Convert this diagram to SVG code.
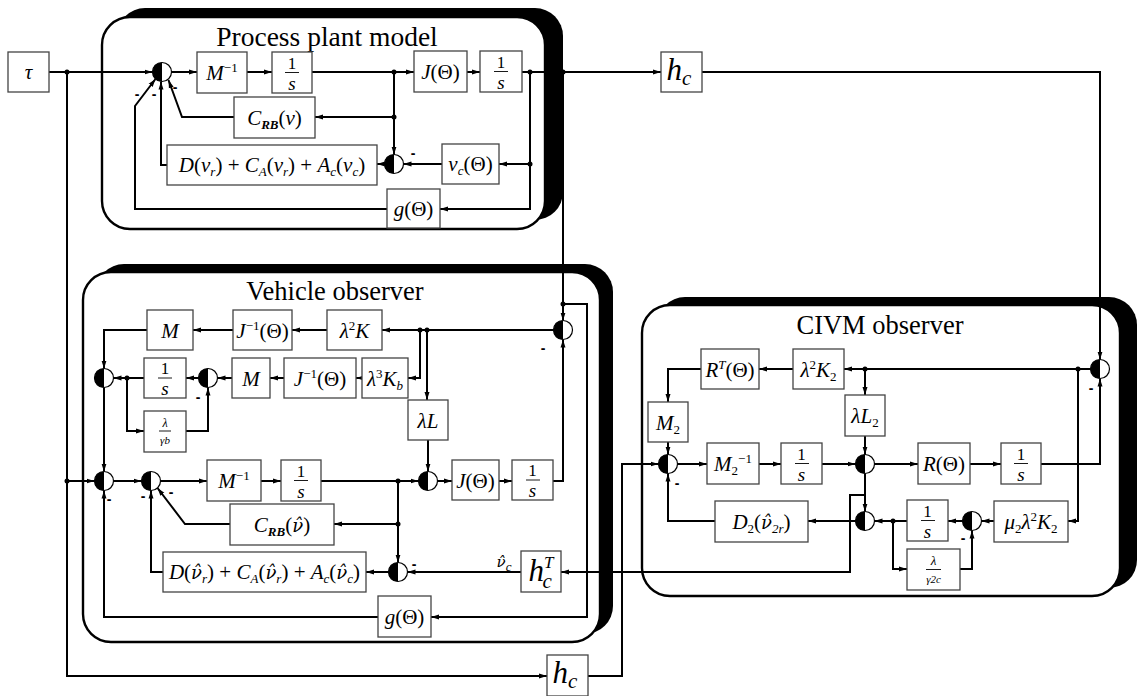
<svg xmlns="http://www.w3.org/2000/svg" width="1141" height="696" viewBox="0 0 1141 696">
<defs>
<style>
.bx{fill:#fff;stroke:#444;stroke-width:1.3}
.ln{fill:none;stroke:#000;stroke-width:2;marker-end:url(#ar)}
.fr{fill:#fff;stroke:#000;stroke-width:2.4}
.sh{fill:#000}
.m{font-family:"Liberation Serif","DejaVu Serif",serif;font-style:italic;font-size:21px;text-anchor:middle;fill:#000}
.u{font-style:normal}
.sb{font-size:13px;baseline-shift:-4px}
.sp{font-size:13px;baseline-shift:8px}
.nh{font-family:"DejaVu Serif",serif;font-size:18px}
.fn{font-style:normal;font-size:17px}
.fs{font-size:19px}
.t{font-family:"Liberation Serif","DejaVu Serif",serif;font-size:26.5px;text-anchor:middle;fill:#000}
.mn{font-family:"Liberation Sans",sans-serif;font-size:14px;font-weight:bold;text-anchor:middle}
.bar{stroke:#000;stroke-width:0.9}
.dot{fill:#000}
</style>
<marker id="ar" viewBox="0 0 8 6" refX="8" refY="3" markerWidth="8" markerHeight="6" orient="auto" markerUnits="userSpaceOnUse"><path d="M0,0.5 L8,3 L0,5.5 z"/></marker>
<g id="sum"><circle r="9.5" fill="#fff" stroke="#000" stroke-width="1.2"/><path d="M0,-9.5 A9.5,9.5 0 0 0 0,9.5 Z"/></g>
</defs>
<rect width="1141" height="696" fill="#fff"/>

<!-- subsystem frames: black shadow offset up/right behind a white rounded panel -->
<g id="frame-plant">
<rect class="sh" x="117" y="8" width="446" height="212" rx="28"/>
<rect class="fr" x="102" y="17" width="443" height="212" rx="28"/>
<text class="t" x="327" y="46" style="font-size:27.5px">Process plant model</text>
</g>
<g id="frame-vehicle">
<rect class="sh" x="96" y="264" width="517" height="370" rx="28"/>
<rect class="fr" x="83" y="272" width="517" height="370" rx="28"/>
<text class="t" x="335" y="300">Vehicle observer</text>
</g>
<g id="frame-civm">
<rect class="sh" x="657" y="297" width="480" height="291" rx="28"/>
<rect class="fr" x="642" y="305" width="478" height="291" rx="28"/>
<text class="t" x="880" y="334">CIVM observer</text>
</g>

<!-- signal lines -->
<g id="connectors">
<!-- plant -->
<path class="ln" d="M49,72 H152.5"/>
<path class="ln" d="M171.5,72 H197"/>
<path class="ln" d="M247,72 H272"/>
<path class="ln" d="M312,72 H414"/>
<path class="ln" d="M467,72 H480"/>
<path class="ln" d="M522,72 H661"/>
<path class="ln" d="M394,72 V154.5"/>
<path class="ln" d="M394,117 H315"/>
<path class="ln" d="M234,117 H182 L168.5,80"/>
<path class="ln" d="M167,165 H161 V81.5"/>
<path class="ln" d="M530,72 V209 H440"/>
<path class="ln" d="M387,209 H135 V106 L155.5,79"/>
<path class="ln" d="M530,164 H499"/>
<path class="ln" d="M442,164 H403.5"/>
<path class="ln" d="M384.5,164 H377"/>
<!-- plant output to observers -->
<path class="ln" d="M702,72 H1100 V359.5"/>
<path class="ln" d="M563,72 V320.5"/>
<path class="ln" d="M563,304 H587 V617 H431"/>
<path class="ln" d="M67,72 V676 H547"/>
<path class="ln" d="M588,676 H622 V464 H658.5"/>
<!-- vehicle observer -->
<path class="ln" d="M553.5,330 H382"/>
<path class="ln" d="M327,330 H292"/>
<path class="ln" d="M233,330 H193"/>
<path class="ln" d="M147,330 H104 V368.5"/>
<path class="ln" d="M420,330 V378 H408"/>
<path class="ln" d="M427,330 V400"/>
<path class="ln" d="M362,378 H356"/>
<path class="ln" d="M284,378 H270"/>
<path class="ln" d="M232,378 H217.5"/>
<path class="ln" d="M198.5,378 H186"/>
<path class="ln" d="M144,378 H113.5"/>
<path class="ln" d="M127,378 V431 H144"/>
<path class="ln" d="M186,431 H208 V387.5"/>
<path class="ln" d="M104,387.5 V471.5"/>
<path class="ln" d="M67,481 H94.5"/>
<path class="ln" d="M113.5,481 H141.5"/>
<path class="ln" d="M160.5,481 H207"/>
<path class="ln" d="M261,481 H281"/>
<path class="ln" d="M321,481 H418.5"/>
<path class="ln" d="M428,440 V471.5"/>
<path class="ln" d="M437.5,481 H452"/>
<path class="ln" d="M499,481 H512"/>
<path class="ln" d="M553,481 H563 V339.5"/>
<path class="ln" d="M398,481 V562.5"/>
<path class="ln" d="M398,524 H334"/>
<path class="ln" d="M230,524 H185 L157.5,488"/>
<path class="ln" d="M388.5,572 H366"/>
<path class="ln" d="M163,572 H151 V490.5"/>
<path class="ln" d="M561,572 H407.5"/>
<path class="ln" d="M378,617 H104 V490.5"/>
<!-- CIVM observer -->
<path class="ln" d="M1090.5,369 H844"/>
<path class="ln" d="M793,369 H759"/>
<path class="ln" d="M701,369 H668 V402"/>
<path class="ln" d="M668,442 V454.5"/>
<path class="ln" d="M865,369 V395"/>
<path class="ln" d="M865,436 V454.5"/>
<path class="ln" d="M677.5,464 H707"/>
<path class="ln" d="M759,464 H781"/>
<path class="ln" d="M822,464 H855.5"/>
<path class="ln" d="M874.5,464 H918"/>
<path class="ln" d="M970,464 H1001"/>
<path class="ln" d="M1041,464 H1100 V378.5"/>
<path class="ln" d="M865,473.5 V511.5"/>
<path class="ln" d="M865,495 H850 V572 H561"/>
<path class="ln" d="M855.5,521 H808"/>
<path class="ln" d="M715,521 H668 V473.5"/>
<path class="ln" d="M907,521 H874.5"/>
<path class="ln" d="M893,521 V569 H907"/>
<path class="ln" d="M962.5,521 H948"/>
<path class="ln" d="M994,521 H981.5"/>
<path class="ln" d="M1078,369 V521 H1068"/>
<path class="ln" d="M960,569 H972 V530.5"/>
<!-- branch points -->
<circle class="dot" cx="67" cy="72" r="2.5"/>
<circle class="dot" cx="394" cy="72" r="2.5"/>
<circle class="dot" cx="394" cy="117" r="2.5"/>
<circle class="dot" cx="530" cy="72" r="2.5"/>
<circle class="dot" cx="530" cy="164" r="2.5"/>
<circle class="dot" cx="563" cy="72" r="2.5"/>
<circle class="dot" cx="563" cy="304" r="2.5"/>
<circle class="dot" cx="420" cy="330" r="2.5"/>
<circle class="dot" cx="427" cy="330" r="2.5"/>
<circle class="dot" cx="127" cy="378" r="2.5"/>
<circle class="dot" cx="67" cy="481" r="2.5"/>
<circle class="dot" cx="398" cy="481" r="2.5"/>
<circle class="dot" cx="398" cy="524" r="2.5"/>
<circle class="dot" cx="865" cy="369" r="2.5"/>
<circle class="dot" cx="1078" cy="369" r="2.5"/>
<circle class="dot" cx="893" cy="521" r="2.5"/>
<!-- sign labels -->
<text class="mn" x="137" y="99">-</text>
<text class="mn" x="154" y="99">-</text>
<text class="mn" x="175" y="92">-</text>
<text class="mn" x="413" y="158">-</text>
<text class="mn" x="198" y="402">-</text>
<text class="mn" x="543" y="353">-</text>
<text class="mn" x="109" y="504">-</text>
<text class="mn" x="143" y="501">-</text>
<text class="mn" x="171" y="497">-</text>
<text class="mn" x="414" y="569">-</text>
<text class="mn" x="677" y="488">-</text>
<text class="mn" x="963" y="543">-</text>
<text class="mn" x="1091" y="393">-</text>
<text class="m" x="504" y="567" style="font-size:16px"><tspan class="nh" style="font-size:15px">ν̂</tspan><tspan class="sb">c</tspan></text>
</g>

<!-- input and output blocks -->
<g id="tau"><rect class="bx" x="8" y="52" width="41" height="40"/><text class="m" x="28.5" y="79">τ</text></g>
<g id="hc-top"><rect class="bx" x="661" y="52" width="41" height="40"/><text class="m" x="679" y="80" style="font-size:31px">h<tspan style="font-size:21px;baseline-shift:-5px">c</tspan></text></g>
<g id="hc-bottom"><rect class="bx" x="547" y="655" width="41" height="41"/><text class="m" x="565" y="683" style="font-size:31px">h<tspan style="font-size:21px;baseline-shift:-5px">c</tspan></text></g>
<g id="hc-transpose"><rect class="bx" x="521" y="551" width="40" height="41"/><text class="m" x="541" y="581" style="font-size:31px">h<tspan style="font-size:17px;baseline-shift:13px">T</tspan><tspan style="font-size:21px;baseline-shift:-7px" dx="-11">c</tspan></text></g>

<!-- process plant model blocks -->
<g id="pp-minv"><rect class="bx" x="197" y="52" width="50" height="41"/><text class="m" x="222" y="80">M<tspan class="u sp">−1</tspan></text></g>
<g id="pp-int1"><rect class="bx" x="272" y="52" width="40" height="41"/><text class="m fn" x="292" y="68.5">1</text><line class="bar" x1="285" y1="72.5" x2="299" y2="72.5"/><text class="m fs" x="292" y="89.5">s</text></g>
<g id="pp-j"><rect class="bx" x="414" y="51" width="53" height="41"/><text class="m" x="440.5" y="79">J<tspan class="u">(Θ)</tspan></text></g>
<g id="pp-int2"><rect class="bx" x="480" y="51" width="42" height="41"/><text class="m fn" x="501" y="67.5">1</text><line class="bar" x1="494" y1="71.5" x2="508" y2="71.5"/><text class="m fs" x="501" y="88.5">s</text></g>
<g id="pp-crb"><rect class="bx" x="234" y="97" width="81" height="41"/><text class="m" x="274.5" y="125">C<tspan class="sb" style="font-weight:bold">RB</tspan><tspan class="u">(</tspan>ν<tspan class="u">)</tspan></text></g>
<g id="pp-damp"><rect class="bx" x="167" y="145" width="210" height="40"/><text class="m" x="272" y="172">D<tspan class="u">(</tspan>ν<tspan class="sb">r</tspan><tspan class="u">) + </tspan>C<tspan class="sb">A</tspan><tspan class="u">(</tspan>ν<tspan class="sb">r</tspan><tspan class="u">) + </tspan>A<tspan class="sb">c</tspan><tspan class="u">(</tspan>ν<tspan class="sb">c</tspan><tspan class="u">)</tspan></text></g>
<g id="pp-nuc"><rect class="bx" x="442" y="144" width="57" height="40"/><text class="m" x="470.5" y="171">ν<tspan class="sb">c</tspan><tspan class="u">(Θ)</tspan></text></g>
<g id="pp-g"><rect class="bx" x="387" y="189" width="53" height="39"/><text class="m" x="413.5" y="216">g<tspan class="u">(Θ)</tspan></text></g>
<g id="pp-sum1"><use href="#sum" x="162" y="72"/></g>
<g id="pp-sum2"><use href="#sum" x="394" y="164"/></g>

<!-- vehicle observer blocks -->
<g id="vo-m1"><rect class="bx" x="147" y="310" width="46" height="40"/><text class="m" x="170" y="338">M</text></g>
<g id="vo-jinv1"><rect class="bx" x="233" y="310" width="59" height="40"/><text class="m" x="262.5" y="338">J<tspan class="u sp">−1</tspan><tspan class="u">(Θ)</tspan></text></g>
<g id="vo-l2k"><rect class="bx" x="327" y="310" width="55" height="40"/><text class="m" x="354.5" y="338">λ<tspan class="u sp">2</tspan>K</text></g>
<g id="vo-int1"><rect class="bx" x="144" y="358" width="42" height="40"/><text class="m fn" x="165" y="374">1</text><line class="bar" x1="158" y1="378" x2="172" y2="378"/><text class="m fs" x="165" y="395">s</text></g>
<g id="vo-m2"><rect class="bx" x="232" y="358" width="38" height="40"/><text class="m" x="251" y="386">M</text></g>
<g id="vo-jinv2"><rect class="bx" x="284" y="358" width="72" height="40"/><text class="m" x="320" y="386">J<tspan class="u sp">−1</tspan><tspan class="u">(Θ)</tspan></text></g>
<g id="vo-l3kb"><rect class="bx" x="362" y="358" width="46" height="40"/><text class="m" x="385" y="386">λ<tspan class="u sp">3</tspan>K<tspan class="sb">b</tspan></text></g>
<g id="vo-lgb"><rect class="bx" x="144" y="411" width="42" height="41"/><text class="m" x="165" y="427" style="font-size:12px">λ</text><line class="bar" x1="159" y1="431" x2="171" y2="431"/><text class="m" x="165" y="444" style="font-size:11px">γb</text></g>
<g id="vo-ll"><rect class="bx" x="408" y="400" width="40" height="40"/><text class="m" x="428" y="428">λL</text></g>
<g id="vo-minv"><rect class="bx" x="207" y="460" width="54" height="41"/><text class="m" x="234" y="488">M<tspan class="u sp">−1</tspan></text></g>
<g id="vo-int2"><rect class="bx" x="281" y="460" width="40" height="41"/><text class="m fn" x="301" y="476.5">1</text><line class="bar" x1="294" y1="480.5" x2="308" y2="480.5"/><text class="m fs" x="301" y="497.5">s</text></g>
<g id="vo-j"><rect class="bx" x="452" y="460" width="47" height="40"/><text class="m" x="475.5" y="488">J<tspan class="u">(Θ)</tspan></text></g>
<g id="vo-int3"><rect class="bx" x="512" y="460" width="41" height="40"/><text class="m fn" x="532.5" y="476">1</text><line class="bar" x1="526" y1="480" x2="540" y2="480"/><text class="m fs" x="532.5" y="497">s</text></g>
<g id="vo-crb"><rect class="bx" x="230" y="504" width="104" height="41"/><text class="m" x="282" y="532">C<tspan class="sb" style="font-weight:bold">RB</tspan><tspan class="u">(</tspan><tspan class="nh">ν̂</tspan><tspan class="u">)</tspan></text></g>
<g id="vo-damp"><rect class="bx" x="163" y="552" width="203" height="40"/><text class="m" x="264.5" y="579">D<tspan class="u">(</tspan><tspan class="nh">ν̂</tspan><tspan class="sb">r</tspan><tspan class="u">) + </tspan>C<tspan class="sb">A</tspan><tspan class="u">(</tspan><tspan class="nh">ν̂</tspan><tspan class="sb">r</tspan><tspan class="u">) + </tspan>A<tspan class="sb">c</tspan><tspan class="u">(</tspan><tspan class="nh">ν̂</tspan><tspan class="sb">c</tspan><tspan class="u">)</tspan></text></g>
<g id="vo-g"><rect class="bx" x="378" y="596" width="53" height="41"/><text class="m" x="404.5" y="624">g<tspan class="u">(Θ)</tspan></text></g>
<g id="vo-sum-a"><use href="#sum" x="104" y="378"/></g>
<g id="vo-sum-b"><use href="#sum" x="208" y="378"/></g>
<g id="vo-sum-c"><use href="#sum" x="104" y="481"/></g>
<g id="vo-sum-d"><use href="#sum" x="151" y="481"/></g>
<g id="vo-sum-e"><use href="#sum" x="428" y="481"/></g>
<g id="vo-sum-f"><use href="#sum" x="398" y="572"/></g>
<g id="vo-sum-top"><use href="#sum" x="563" y="330"/></g>

<!-- CIVM observer blocks -->
<g id="cv-rt"><rect class="bx" x="701" y="349" width="58" height="40"/><text class="m" x="730" y="377">R<tspan class="sp">T</tspan><tspan class="u">(Θ)</tspan></text></g>
<g id="cv-l2k2"><rect class="bx" x="793" y="349" width="51" height="40"/><text class="m" x="818.5" y="377">λ<tspan class="u sp">2</tspan>K<tspan class="u sb">2</tspan></text></g>
<g id="cv-m2"><rect class="bx" x="648" y="402" width="40" height="40"/><text class="m" x="668" y="430">M<tspan class="u sb">2</tspan></text></g>
<g id="cv-ll2"><rect class="bx" x="845" y="395" width="40" height="41"/><text class="m" x="865" y="423">λL<tspan class="u sb">2</tspan></text></g>
<g id="cv-m2inv"><rect class="bx" x="707" y="443" width="52" height="41"/><text class="m" x="733" y="471">M<tspan class="u sb">2</tspan><tspan class="u sp">−1</tspan></text></g>
<g id="cv-int1"><rect class="bx" x="781" y="443" width="41" height="41"/><text class="m fn" x="801.5" y="459.5">1</text><line class="bar" x1="795" y1="463.5" x2="809" y2="463.5"/><text class="m fs" x="801.5" y="480.5">s</text></g>
<g id="cv-r"><rect class="bx" x="918" y="443" width="52" height="41"/><text class="m" x="944" y="471">R<tspan class="u">(Θ)</tspan></text></g>
<g id="cv-int2"><rect class="bx" x="1001" y="443" width="40" height="41"/><text class="m fn" x="1021" y="459.5">1</text><line class="bar" x1="1014" y1="463.5" x2="1028" y2="463.5"/><text class="m fs" x="1021" y="480.5">s</text></g>
<g id="cv-d2"><rect class="bx" x="715" y="501" width="93" height="41"/><text class="m" x="761.5" y="529">D<tspan class="u sb">2</tspan><tspan class="u">(</tspan><tspan class="nh">ν̂</tspan><tspan class="sb">2r</tspan><tspan class="u">)</tspan></text></g>
<g id="cv-int3"><rect class="bx" x="907" y="500" width="41" height="41"/><text class="m fn" x="927.5" y="516.5">1</text><line class="bar" x1="921" y1="520.5" x2="935" y2="520.5"/><text class="m fs" x="927.5" y="537.5">s</text></g>
<g id="cv-mu"><rect class="bx" x="994" y="501" width="74" height="41"/><text class="m" x="1031" y="529">μ<tspan class="u sb">2</tspan>λ<tspan class="u sp">2</tspan>K<tspan class="u sb">2</tspan></text></g>
<g id="cv-lg2c"><rect class="bx" x="907" y="549" width="53" height="41"/><text class="m" x="933.5" y="565" style="font-size:13px">λ</text><line class="bar" x1="926" y1="569.5" x2="941" y2="569.5"/><text class="m" x="933.5" y="583" style="font-size:11px">γ2c</text></g>
<g id="cv-sum-l"><use href="#sum" x="668" y="464"/></g>
<g id="cv-sum-m"><use href="#sum" x="865" y="464"/></g>
<g id="cv-sum-n"><use href="#sum" x="865" y="521"/></g>
<g id="cv-sum-o"><use href="#sum" x="972" y="521"/></g>
<g id="cv-sum-r"><use href="#sum" x="1100" y="369"/></g>
</svg>
